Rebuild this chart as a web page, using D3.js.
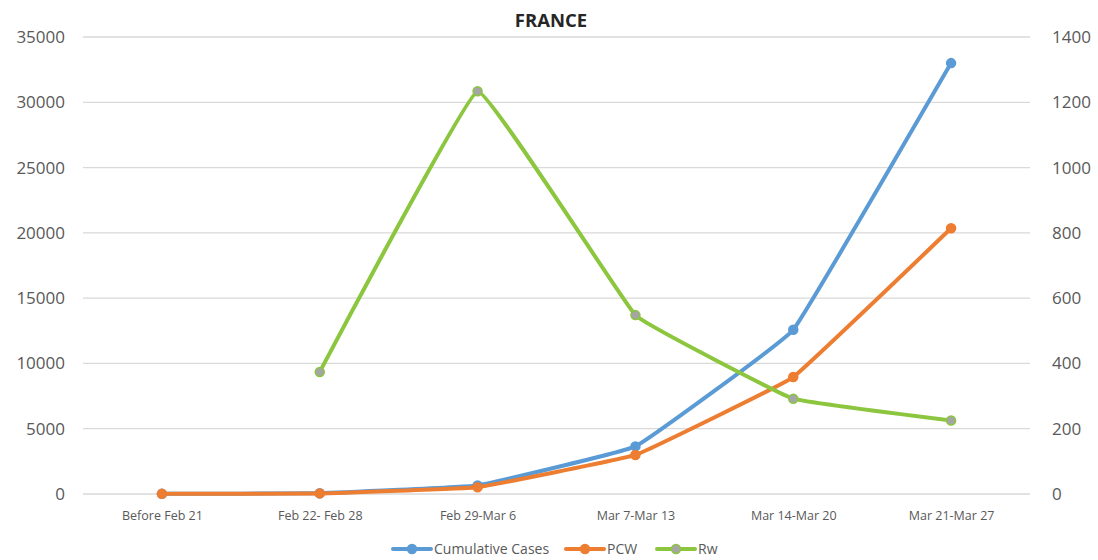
<!DOCTYPE html>
<html>
<head>
<meta charset="utf-8">
<script src="https://cdn.jsdelivr.net/npm/d3@7"></script>
<style>
  body { margin: 0; background: #fff; }
  svg { font-family: "Open Sans", "Liberation Sans", sans-serif; }
</style>
</head>
<body>
<svg id="chart" width="1098" height="560"></svg>
<script>
var categories = ["Before Feb 21", "Feb 22- Feb 28", "Feb 29-Mar 6", "Mar 7-Mar 13", "Mar 14-Mar 20", "Mar 21-Mar 27"];
var cumulativeCases = [12, 57, 653, 3645, 12580, 33000];
var pcw = [12, 45, 520, 2990, 8960, 20350];
var rw = [null, 374, 1234, 548, 292, 225];
var leftTicks = [0, 5000, 10000, 15000, 20000, 25000, 30000, 35000];
var rightTicks = [0, 200, 400, 600, 800, 1000, 1200, 1400];

var svg = d3.select("#chart");
var plotLeft = 83, plotRight = 1030, plotTop = 37, plotBottom = 494;

var x = d3.scalePoint()
  .domain(categories)
  .range([plotLeft, plotRight])
  .padding(0.5);

var yL = d3.scaleLinear().domain([0, 35000]).range([plotBottom, plotTop]);
var yR = d3.scaleLinear().domain([0, 1400]).range([plotBottom, plotTop]);

// grid
svg.append("g")
  .selectAll("line")
  .data(leftTicks)
  .enter().append("line")
  .attr("x1", plotLeft).attr("x2", plotRight)
  .attr("y1", d => yL(d)).attr("y2", d => yL(d))
  .attr("stroke", "#d9d9d9")
  .attr("stroke-width", 1.3);

// left axis
var axL = svg.append("g")
  .attr("transform", "translate(" + plotLeft + ",0)")
  .call(d3.axisLeft(yL).tickValues(leftTicks).tickSize(0).tickPadding(18).tickFormat(d3.format("d")));
axL.select(".domain").remove();
axL.selectAll("text").attr("font-size", 17).attr("fill", "#595959")
  .attr("font-family", "Open Sans, sans-serif");

// right axis
var axR = svg.append("g")
  .attr("transform", "translate(" + plotRight + ",0)")
  .call(d3.axisRight(yR).tickValues(rightTicks).tickSize(0).tickPadding(22).tickFormat(d3.format("d")));
axR.select(".domain").remove();
axR.selectAll("text").attr("font-size", 17).attr("fill", "#595959")
  .attr("font-family", "Open Sans, sans-serif");

// x axis
var axX = svg.append("g")
  .attr("transform", "translate(0," + plotBottom + ")")
  .call(d3.axisBottom(x).tickSize(0).tickPadding(17));
axX.select(".domain").remove();
axX.selectAll("text").attr("font-size", 12.5).attr("fill", "#595959")
  .attr("font-family", "Open Sans, sans-serif");

// title
svg.append("text")
  .attr("x", 551).attr("y", 27)
  .attr("text-anchor", "middle")
  .attr("font-size", 18.5)
  .attr("font-weight", "bold")
  .attr("fill", "#262626")
  .text("FRANCE");

var series = [
  { name: "Cumulative Cases", values: cumulativeCases, y: yL, color: "#5b9bd5", marker: "#5b9bd5" },
  { name: "PCW", values: pcw, y: yL, color: "#ed7d31", marker: "#ed7d31" },
  { name: "Rw", values: rw, y: yR, color: "#8cc63f", marker: "#a5a5a5" }
];

series.forEach(s => {
  var pts = categories.map((c, i) => ({ c: c, v: s.values[i] })).filter(p => p.v !== null);
  var line = d3.line()
    .x(p => x(p.c))
    .y(p => s.y(p.v))
    .curve(d3.curveCardinal.tension(0.8));
  svg.append("path")
    .datum(pts)
    .attr("d", line)
    .attr("fill", "none")
    .attr("stroke", s.color)
    .attr("stroke-width", 4)
    .attr("stroke-linecap", "round");
  svg.append("g")
    .selectAll("circle")
    .data(pts)
    .enter().append("circle")
    .attr("cx", p => x(p.c))
    .attr("cy", p => s.y(p.v))
    .attr("r", 4.5)
    .attr("fill", s.marker)
    .attr("stroke", s.color)
    .attr("stroke-width", 1.5);
});

// legend
var legendX = [393, 566, 657];
var legend = svg.append("g");
series.forEach((s, i) => {
  var g = legend.append("g").attr("transform", "translate(" + legendX[i] + ",549)");
  g.append("line")
    .attr("x1", 0).attr("x2", 38)
    .attr("stroke", s.color).attr("stroke-width", 4).attr("stroke-linecap", "round");
  g.append("circle")
    .attr("cx", 19).attr("r", 4.5)
    .attr("fill", s.marker).attr("stroke", s.color).attr("stroke-width", 1.5);
  g.append("text")
    .attr("x", 41).attr("y", 5)
    .attr("font-size", 14)
    .attr("fill", "#595959")
    .text(s.name);
});
</script>
</body>
</html>
